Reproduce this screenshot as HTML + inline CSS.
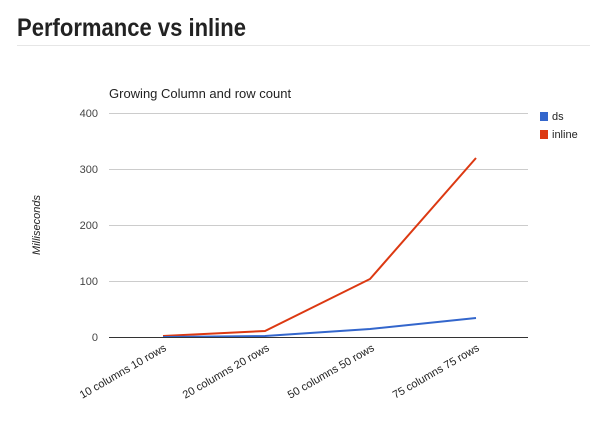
<!DOCTYPE html>
<html><head><style>body{margin:0;background:#fff;width:604px;height:420px;overflow:hidden;font-family:"Liberation Sans",Arial,sans-serif}</style></head>
<body>
<svg width="604" height="420" xmlns="http://www.w3.org/2000/svg" font-family="Liberation Sans, Arial, sans-serif">
<text x="17" y="36" font-size="25" font-weight="bold" fill="#222" textLength="229" lengthAdjust="spacingAndGlyphs">Performance vs inline</text>
<line x1="17" y1="45.5" x2="590" y2="45.5" stroke="#e6e6e6"/>
<text x="109" y="98" font-size="13" fill="#222">Growing Column and row count</text>
<g stroke="#ccc" stroke-width="1">
<line x1="109" y1="113.5" x2="528" y2="113.5"/>
<line x1="109" y1="169.5" x2="528" y2="169.5"/>
<line x1="109" y1="225.5" x2="528" y2="225.5"/>
<line x1="109" y1="281.5" x2="528" y2="281.5"/>
</g>
<g font-size="11" fill="#444" text-anchor="end">
<text x="98" y="117">400</text><text x="98" y="173">300</text><text x="98" y="229">200</text><text x="98" y="285">100</text><text x="98" y="341">0</text>
</g>
<text transform="translate(40,225) rotate(-90)" font-size="11" font-style="italic" fill="#222" text-anchor="middle">Milliseconds</text>
<polyline points="163,336 265,331 370,279 476,158" fill="none" stroke="#dc3912" stroke-width="2"/>
<polyline points="163,337 265,336 370,329 476,318" fill="none" stroke="#3366cc" stroke-width="2"/>
<line x1="109" y1="337.5" x2="528" y2="337.5" stroke="#333" stroke-width="1"/>
<g font-size="11" fill="#222" text-anchor="end">
<text transform="translate(167,350) rotate(-30)">10 columns 10 rows</text>
<text transform="translate(270,350) rotate(-30)">20 columns 20 rows</text>
<text transform="translate(375,350) rotate(-30)">50 columns 50 rows</text>
<text transform="translate(480,350) rotate(-30)">75 columns 75 rows</text>
</g>
<rect x="540" y="112" width="8" height="9" fill="#3366cc"/>
<text x="552" y="120" font-size="11" fill="#222">ds</text>
<rect x="540" y="130" width="8" height="9" fill="#dc3912"/>
<text x="552" y="138" font-size="11" fill="#222">inline</text>
</svg>
</body></html>
